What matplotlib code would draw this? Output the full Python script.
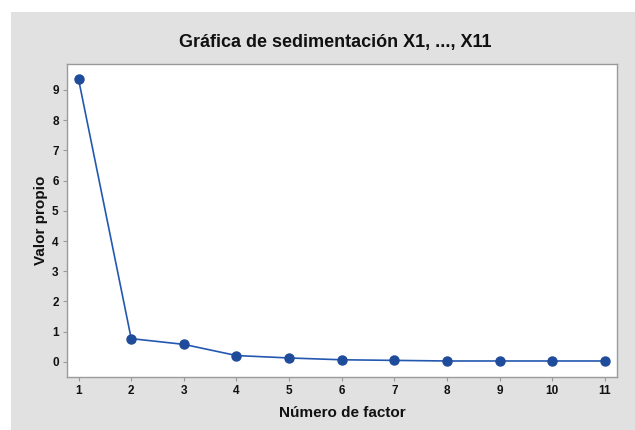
import matplotlib
matplotlib.use("Agg")
import matplotlib.pyplot as plt
from matplotlib.patches import Rectangle

# eigenvalues
factores = [1, 2, 3, 4, 5, 6, 7, 8, 9, 10, 11]
valor_propio = [9.35, 0.77, 0.58, 0.21, 0.13, 0.07, 0.05, 0.03, 0.03, 0.03, 0.03]
y_ticks = [0, 1, 2, 3, 4, 5, 6, 7, 8, 9]

titulo = "Gráfica de sedimentación X1, ..., X11"
x_label = "Número de factor"
y_label = "Valor propio"

plt.rcParams['font.family'] = ['Liberation Sans', 'DejaVu Sans']
plt.rcParams['font.weight'] = 'bold'

fig = plt.figure(figsize=(6.35, 4.3), dpi=100, facecolor='white')
# grey panel behind the chart
fig.patches.append(Rectangle((11 / 635, 0), 1, 1 - 12 / 430, transform=fig.transFigure,
                             facecolor='#e1e1e1', edgecolor='none', zorder=-10))

ax = fig.add_axes([67 / 635, 53 / 430, 550 / 635, 313 / 430])
ax.set_facecolor('white')

azul = '#1f4b9b'
ax.plot(factores, valor_propio, '-', color='#2458b0', lw=1.2)
ax.plot(factores, valor_propio, 'o', color=azul, ms=6.5)

ax.set_xlim(0.78, 11.23)
ax.set_ylim(-0.5, 9.86)
ax.set_xticks(factores)
ax.set_yticks(y_ticks)

for s in ax.spines.values():
    s.set_color('#9a9a9a')
    s.set_linewidth(1.0)
ax.tick_params(axis='both', colors='#9a9a9a', length=3, width=0.8, labelsize=8.5,
               labelcolor='#111111', pad=3)
for lab in ax.get_xticklabels() + ax.get_yticklabels():
    lab.set_fontweight('bold')

ax.set_xlabel(x_label, fontsize=11, fontweight='bold', color='#111111', labelpad=6)
ax.set_ylabel(y_label, fontsize=11, fontweight='bold', color='#111111', labelpad=3)

fig.text(335 / 635, 1 - 43 / 430, titulo, ha='center', va='center',
         fontsize=13, fontweight='bold', color='#111111')

fig.savefig('out.png', dpi=100, facecolor='white')
